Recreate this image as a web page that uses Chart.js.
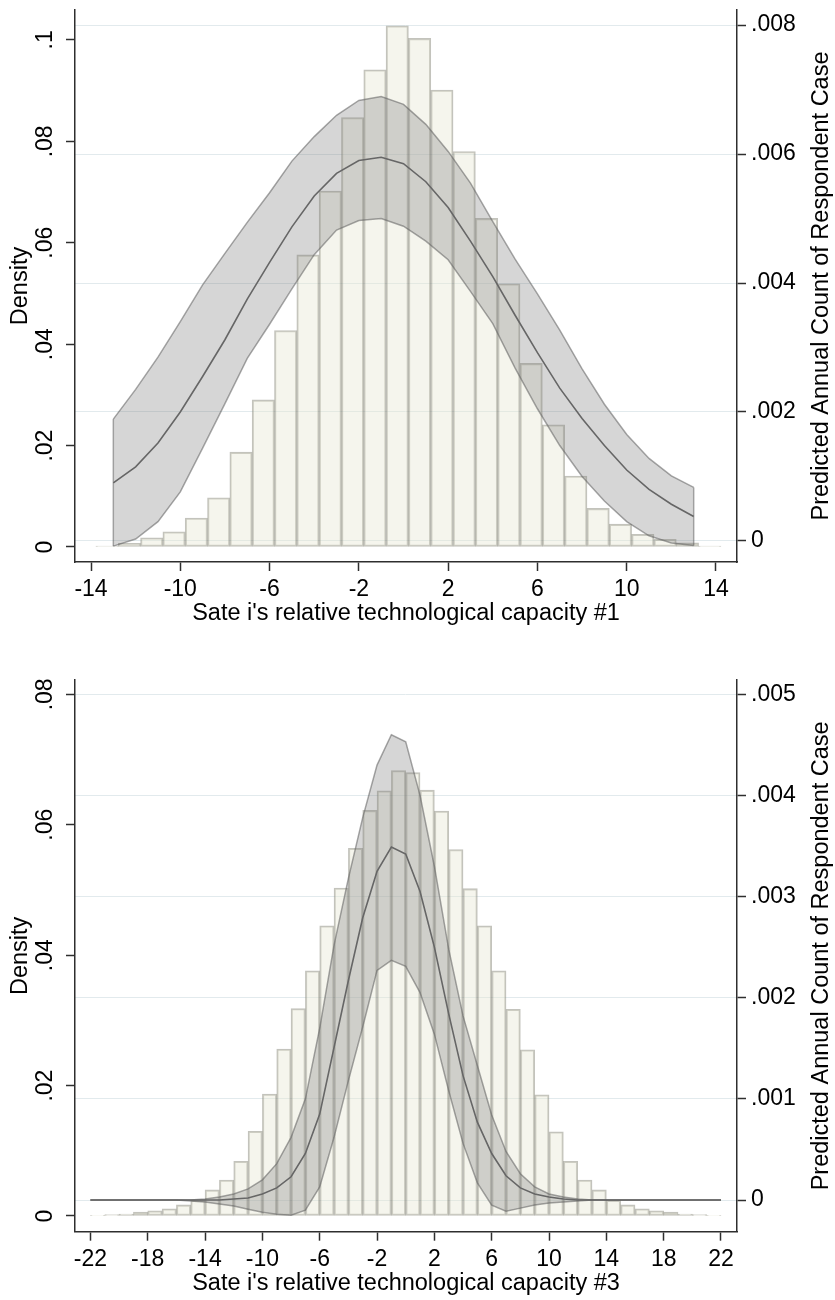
<!DOCTYPE html>
<html>
<head>
<meta charset="utf-8">
<script src="https://cdn.jsdelivr.net/npm/chart.js@4.4.1/dist/chart.umd.min.js"></script>
<style>
  html, body { margin: 0; padding: 0; background: #fff; }
  #wrap { position: relative; width: 835px; height: 1300px; }
  canvas { position: absolute; left: 0; }
  #c1 { top: 0; }
  #c2 { top: 650px; }
</style>
</head>
<body>
<div id="wrap">
  <canvas id="c1" width="835" height="650"></canvas>
  <canvas id="c2" width="835" height="650"></canvas>
</div>
<script>
// ---- panel 1: capacity #1 ----
// histogram bin mid-points and densities (left axis)
const hist1X = [-13.28, -12.28, -11.28, -10.28, -9.28, -8.28, -7.28, -6.28, -5.28, -4.28,
  -3.28, -2.28, -1.28, -0.28, 0.72, 1.72, 2.72, 3.72, 4.72, 5.72,
  6.72, 7.72, 8.72, 9.72, 10.72, 11.72, 12.72, 13.72];
const hist1Y = [0.0002, 0.0007, 0.0018, 0.0030, 0.0057, 0.0097, 0.0187, 0.0290, 0.0427, 0.0576,
  0.0702, 0.0847, 0.0941, 0.1028, 0.1003, 0.0901, 0.0780, 0.0648, 0.0519, 0.0362,
  0.0241, 0.0140, 0.0076, 0.0045, 0.0025, 0.0015, 0.0008, 0.0002];

// predicted annual count with 95% band (right axis)
const fit1X = [-13, -12, -11, -10, -9, -8, -7, -6, -5, -4, -3, -2, -1, 0,
  1, 2, 3, 4, 5, 6, 7, 8, 9, 10, 11, 12, 13];
const fit1 = [0.00090, 0.00115, 0.00152, 0.00200, 0.00255, 0.00312, 0.00375, 0.00432, 0.00487, 0.00535,
  0.00570, 0.00590, 0.00595, 0.00585, 0.00557, 0.00517, 0.00465, 0.00410, 0.00350, 0.00292,
  0.00237, 0.00190, 0.00148, 0.00110, 0.00080, 0.00057, 0.00038];
const hi1 = [0.00189, 0.00235, 0.00285, 0.00340, 0.00397, 0.00446, 0.00494, 0.00540, 0.00589, 0.00627,
  0.00660, 0.00683, 0.00689, 0.00677, 0.00646, 0.00604, 0.00555, 0.00495, 0.00437, 0.00383,
  0.00327, 0.00267, 0.00212, 0.00165, 0.00128, 0.00101, 0.00083];
const lo1 = [-0.00008, 0.00003, 0.00030, 0.00076, 0.00144, 0.00213, 0.00283, 0.00336, 0.00391, 0.00444,
  0.00482, 0.00497, 0.00500, 0.00488, 0.00465, 0.00436, 0.00387, 0.00337, 0.00268, 0.00205,
  0.00148, 0.00100, 0.00062, 0.00030, 0.00008, -0.00003, -0.00007];

const x1Ticks = [-14, -10, -6, -2, 2, 6, 10, 14];
const x1Labels = ['-14', '-10', '-6', '-2', '2', '6', '10', '14'];
const yL1Ticks = [0, 0.02, 0.04, 0.06, 0.08, 0.1];
const yL1Labels = ['0', '.02', '.04', '.06', '.08', '.1'];
const yR1Ticks = [0, 0.002, 0.004, 0.006, 0.008];
const yR1Labels = ['0', '.002', '.004', '.006', '.008'];

// ---- panel 2: capacity #3 ----
const hist2X = [-21.5, -20.5, -19.5, -18.5, -17.5, -16.5, -15.5, -14.5, -13.5, -12.5, -11.5,
  -10.5, -9.5, -8.5, -7.5, -6.5, -5.5, -4.5, -3.5, -2.5, -1.5, -0.5,
  0.5, 1.5, 2.5, 3.5, 4.5, 5.5, 6.5, 7.5, 8.5, 9.5, 10.5,
  11.5, 12.5, 13.5, 14.5, 15.5, 16.5, 17.5, 18.5, 19.5, 20.5, 21.5];
const hist2Y = [0.0001, 0.0002, 0.0003, 0.0006, 0.0008, 0.0011, 0.0017, 0.0024, 0.0040, 0.0055, 0.0084,
  0.0130, 0.0187, 0.0256, 0.0318, 0.0376, 0.0445, 0.0503, 0.0564, 0.0622, 0.0652, 0.0683,
  0.0680, 0.0653, 0.0621, 0.0562, 0.0502, 0.0445, 0.0376, 0.0317, 0.0255, 0.0186, 0.0129,
  0.0084, 0.0055, 0.0040, 0.0024, 0.0017, 0.0011, 0.0008, 0.0006, 0.0003, 0.0002, 0.0001];

const fit2X = [-22, -21, -20, -19, -18, -17, -16, -15, -14, -13, -12, -11, -10, -9, -8, -7, -6, -5, -4, -3, -2, -1,
  0, 1, 2, 3, 4, 5, 6, 7, 8, 9, 10, 11, 12, 13, 14, 15, 16, 17, 18, 19, 20, 21, 22];
const fit2 = [0, 0, 0, 0, 0, 0, 0, 0, 0, 0, 0.00001, 0.00002, 0.00006, 0.00012, 0.00023, 0.00046, 0.00085, 0.00151, 0.00217, 0.00279, 0.00325, 0.00349,
  0.00342, 0.00305, 0.00250, 0.00184, 0.00123, 0.00077, 0.00046, 0.00024, 0.00012, 0.00006, 0.00003, 0.00001, 0, 0, 0, 0, 0, 0, 0, 0, 0, 0, 0];
const hi2 = [0, 0, 0, 0, 0, 0, 0, 0, 0.00001, 0.00003, 0.00006, 0.00011, 0.00020, 0.00036, 0.00062, 0.00100, 0.00170, 0.00252, 0.00318, 0.00378, 0.00430, 0.00460,
  0.00453, 0.00400, 0.00330, 0.00248, 0.00182, 0.00133, 0.00084, 0.00048, 0.00026, 0.00013, 0.00006, 0.00003, 0.00001, 0, 0, 0, 0, 0, 0, 0, 0, 0, 0];
const lo2 = [0, 0, 0, 0, 0, 0, 0, -0.00001, -0.00002, -0.00004, -0.00006, -0.00009, -0.00012, -0.00014, -0.00015, -0.00010, 0.00013, 0.00062, 0.00118, 0.00171, 0.00227, 0.00237,
  0.00231, 0.00205, 0.00164, 0.00108, 0.00056, 0.00017, -0.00005, -0.00011, -0.00008, -0.00005, -0.00003, -0.00002, -0.00001, 0, 0, 0, 0, 0, 0, 0, 0, 0, 0];

const x2Ticks = [-22, -18, -14, -10, -6, -2, 2, 6, 10, 14, 18, 22];
const x2Labels = ['-22', '-18', '-14', '-10', '-6', '-2', '2', '6', '10', '14', '18', '22'];
const yL2Ticks = [0, 0.02, 0.04, 0.06, 0.08];
const yL2Labels = ['0', '.02', '.04', '.06', '.08'];
const yR2Ticks = [0, 0.001, 0.002, 0.003, 0.004, 0.005];
const yR2Labels = ['0', '.001', '.002', '.003', '.004', '.005'];

// ---- look ----
const FONT = "'Liberation Sans', Arial, Helvetica, sans-serif";
const INK = '#000';
const AXIS = '#2e2e2e';
const GRID = '#e2eaed';
const BAR_FILL = 'rgba(230,230,212,0.42)';
const BAR_EDGE = 'rgba(135,135,122,0.5)';
const BAND_FILL = 'rgba(120,120,120,0.3)';
const BAND_EDGE = 'rgba(95,95,95,0.55)';
const FIT_LINE = '#666';

function pts(xs, ys) { return xs.map((x, i) => ({ x, y: ys[i] })); }

// Chart.js turns a right-side title top-to-bottom; Stata reads it bottom-to-top
const rightTitle = {
  id: 'rightTitle',
  afterDraw(chart, args, opts) {
    const { ctx, chartArea } = chart;
    ctx.save();
    ctx.translate(opts.x, (chartArea.top + chartArea.bottom) / 2);
    ctx.rotate(-Math.PI / 2);
    ctx.font = `${opts.size}px ${FONT}`;
    ctx.fillStyle = INK;
    ctx.textAlign = 'center';
    ctx.textBaseline = 'middle';
    ctx.fillText(opts.text, 0, 0);
    ctx.restore();
  },
};

function makePanel(id, p) {
  const fixW = w => s => { s.width = w; s.paddingTop = 0; s.paddingBottom = 0; };
  const fixH = h => s => { s.height = h; s.paddingLeft = 0; s.paddingRight = 0; };
  const setTicks = vals => s => { s.ticks = vals.map(v => ({ value: v })); };
  const tickFont = { family: FONT, size: 23 };
  const titleFont = { family: FONT, size: 23.5 };
  const tickGrid = { display: true, drawOnChartArea: false, offset: false, tickLength: 9, tickWidth: 1.5, tickColor: AXIS };
  const border = { display: true, color: AXIS, width: 1.5 };

  const first = p.fitX.length - 1;
  return new Chart(document.getElementById(id), {
    type: 'bar',
    data: {
      datasets: [
        {
          type: 'bar', data: pts(p.histX, p.histY), yAxisID: 'y', order: 5,
          backgroundColor: BAR_FILL, borderColor: BAR_EDGE, borderWidth: 1.4,
          borderSkipped: false, barPercentage: 1, categoryPercentage: 1,
        },
        {
          type: 'line', data: pts(p.fitX, p.hi), yAxisID: 'y1', order: 3, fill: '+1',
          backgroundColor: BAND_FILL, borderColor: BAND_EDGE, borderWidth: 1.5, pointRadius: 0, tension: 0,
        },
        {
          type: 'line', data: pts(p.fitX, p.lo), yAxisID: 'y1', order: 2, fill: false,
          borderColor: BAND_EDGE, borderWidth: 1.5, pointRadius: 0, tension: 0,
        },
        {
          type: 'line', data: pts(p.fitX, p.fit), yAxisID: 'y1', order: 1, fill: false,
          borderColor: FIT_LINE, borderWidth: 1.6, pointRadius: 0, tension: 0,
        },
        // vertical ends of the band
        {
          type: 'line', yAxisID: 'y1', order: 2, fill: false,
          data: [{ x: p.fitX[0], y: p.lo[0] }, { x: p.fitX[0], y: p.hi[0] }],
          borderColor: BAND_EDGE, borderWidth: 1.5, pointRadius: 0,
        },
        {
          type: 'line', yAxisID: 'y1', order: 2, fill: false,
          data: [{ x: p.fitX[first], y: p.lo[first] }, { x: p.fitX[first], y: p.hi[first] }],
          borderColor: BAND_EDGE, borderWidth: 1.5, pointRadius: 0,
        },
      ],
    },
    options: {
      responsive: false,
      animation: false,
      events: [],
      layout: { autoPadding: false, padding: { top: p.padTop, left: 0, right: 0, bottom: 0 } },
      plugins: {
        legend: { display: false },
        tooltip: { enabled: false },
        rightTitle: { text: 'Predicted Annual Count of Respondent Case', x: 822, size: 23.5 },
      },
      scales: {
        x: {
          type: 'linear', position: 'bottom', min: p.xMin, max: p.xMax, offset: false,
          afterBuildTicks: setTicks(p.xTicks), afterFit: fixH(p.axisH),
          grid: tickGrid, border,
          ticks: { autoSkip: false, maxRotation: 0, color: INK, font: tickFont, padding: 5,
                   callback: (v, i) => p.xLabels[i] },
          title: { display: true, text: p.xTitle, color: INK, font: titleFont,
                   padding: { top: 0, bottom: p.titlePad } },
        },
        y: {
          type: 'linear', position: 'left', min: p.yMin, max: p.yMax,
          afterBuildTicks: setTicks(p.yTicks), afterFit: fixW(75),
          grid: tickGrid, border,
          ticks: { autoSkip: false, minRotation: 90, maxRotation: 90, crossAlign: 'center',
                   color: INK, font: tickFont, padding: 4, callback: (v, i) => p.yLabels[i] },
          title: { display: true, text: 'Density', color: INK, font: titleFont, padding: { top: 6, bottom: 0 } },
        },
        y1: {
          type: 'linear', position: 'right', min: p.rMin, max: p.rMax,
          afterBuildTicks: setTicks(p.rTicks), afterFit: fixW(98),
          grid: { display: true, drawOnChartArea: true, color: GRID, lineWidth: 1,
                  tickLength: 9, tickWidth: 1.5, tickColor: AXIS },
          border,
          ticks: { autoSkip: false, color: INK, font: tickFont, padding: 5,
                   callback: (v, i) => p.rLabels[i] },
        },
      },
    },
    plugins: [rightTitle],
  });
}

makePanel('c1', {
  histX: hist1X, histY: hist1Y, fitX: fit1X, fit: fit1, hi: hi1, lo: lo1,
  xTicks: x1Ticks, xLabels: x1Labels, yTicks: yL1Ticks, yLabels: yL1Labels, rTicks: yR1Ticks, rLabels: yR1Labels,
  xMin: -14.717, xMax: 14.941, yMin: -0.00296, yMax: 0.1059, rMin: -0.000326, rMax: 0.008233,
  xTitle: "Sate i's relative technological capacity #1",
  padTop: 10, axisH: 88, titlePad: 22,
});

makePanel('c2', {
  histX: hist2X, histY: hist2Y, fitX: fit2X, fit: fit2, hi: hi2, lo: lo2,
  xTicks: x2Ticks, xLabels: x2Labels, yTicks: yL2Ticks, yLabels: yL2Labels, rTicks: yR2Ticks, rLabels: yR2Labels,
  xMin: -23.076, xMax: 23.117, yMin: -0.002408, yMax: 0.0822, rMin: -0.000313, rMax: 0.005141,
  xTitle: "Sate i's relative technological capacity #3",
  padTop: 30, axisH: 68.3, titlePad: 2.5,
});
</script>
</body>
</html>
